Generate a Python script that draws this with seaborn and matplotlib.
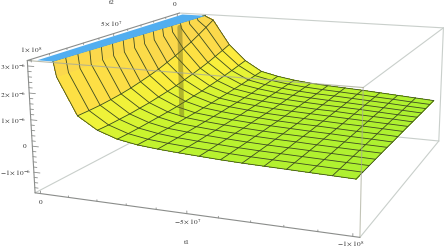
import numpy as np
import seaborn as sns
import matplotlib
matplotlib.use("Agg")
import matplotlib.pyplot as plt

sns.set_theme(style="white")
plt.rcParams["mathtext.fontset"] = "stix"
plt.rcParams["font.family"] = ["Liberation Serif", "DejaVu Serif"]

# values in units of 1e-6
z_min, z_max = -1.8, 3.2
x_lo, x_hi, y_lo, y_hi = -1.02e8, 2e6, -2e6, 1.02e8
t1_mesh = [-1e8 * i / 15 for i in range(1, 16)]
t2_mesh = [1e8 * j / 15 for j in range(16)]
t1_clip = [-10e6, -9.7e6, -9.4e6, -9.1e6, -8.8e6, -8.5e6, -8.2e6, -7.9e6,
           -7.6e6, -7.3e6, -7e6, -6.7e6, -6.4e6, -6.1e6, -5.9e6, -5.7e6]
z_table = np.array([
    [3.15, 3.00, 1.90, 1.20, .75, .58, .46, .38, .33, .29, .25, .20, .15, .10, .05],
    [3.08, 2.78, 1.76, 1.12, .71, .55, .44, .37, .32, .28, .24, .19, .15, .10, .06],
    [3.02, 2.57, 1.63, 1.04, .67, .52, .42, .35, .30, .27, .23, .19, .15, .10, .06],
    [2.96, 2.37, 1.50, .97, .63, .50, .40, .34, .29, .25, .22, .18, .14, .10, .06],
    [2.91, 2.20, 1.39, .90, .60, .47, .39, .33, .28, .24, .21, .18, .14, .10, .07],
    [2.86, 2.03, 1.29, .84, .57, .45, .37, .31, .27, .23, .21, .17, .14, .11, .07],
    [2.82, 1.89, 1.20, .78, .54, .43, .36, .30, .26, .23, .20, .17, .14, .11, .08],
    [2.78, 1.75, 1.11, .74, .51, .42, .35, .29, .25, .22, .19, .16, .14, .11, .08],
    [2.74, 1.64, 1.04, .69, .49, .40, .33, .29, .24, .21, .19, .16, .13, .11, .08],
    [2.71, 1.54, .98, .65, .47, .39, .33, .28, .24, .21, .18, .16, .13, .11, .08],
    [2.69, 1.45, .92, .62, .46, .38, .32, .27, .23, .20, .18, .16, .13, .11, .09],
    [2.67, 1.38, .88, .60, .44, .37, .31, .27, .23, .20, .18, .15, .13, .11, .09],
    [2.65, 1.33, .84, .58, .43, .36, .31, .26, .22, .19, .17, .15, .13, .11, .09],
    [2.64, 1.29, .82, .56, .43, .35, .30, .26, .22, .19, .17, .15, .13, .11, .09],
    [2.63, 1.27, .80, .55, .42, .35, .30, .26, .22, .19, .17, .15, .13, .11, .09],
    [2.63, 1.26, .80, .55, .42, .35, .30, .26, .22, .19, .17, .15, .13, .11, .09],
])
t1_ticks = [-1e7 * i for i in range(11)]
t2_ticks = [1e7 * i for i in range(11)]
z_ticks = [-1.6 + 0.2 * i for i in range(25)]
labels = [("0", 175, 4), (r"$5\times10^{7}$", 111, 24), (r"$1\times10^{8}$", 31, 50), ("t2", 112, 3),
          (r"$3\times10^{-6}$", 13, 67), (r"$2\times10^{-6}$", 13, 95), (r"$1\times10^{-6}$", 13, 121),
          ("0", 25, 147), (r"$-1\times10^{-6}$", 15, 173), ("0", 41, 203),
          (r"$-5\times10^{7}$", 188, 222), (r"$-1\times10^{8}$", 351, 244), ("t1", 187, 243)]

fig = plt.figure(figsize=(4.44, 2.48), dpi=100)
ax = fig.add_axes([24.34 / 444, 1 - 333.58 / 248, 445.71 / 444, 445.71 / 248],
                  projection="3d", computed_zorder=False)
ax.set_xlim(x_lo, x_hi)
ax.set_ylim(y_lo, y_hi)
ax.set_zlim(z_min, z_max)
ax.view_init(13.63, 112.05, 0.27)
ax.set_proj_type("persp", focal_length=0.4146)
ax.set_box_aspect((1, 0.9944, 0.4007))
ax.set_axis_off()

light = "#c9cfcb"
dark = "#8b8d8b"
through = "#a9ab98"
mesh = "#3c4a22"


def edge(p, q, color, zorder=1, lw=0.8, alpha=1.0):
    ax.plot([p[0], q[0]], [p[1], q[1]], [p[2], q[2]], color=color, lw=lw, alpha=alpha, zorder=zorder)


# box
A, B, C, D = (x_hi, y_hi, z_max), (x_hi, y_lo, z_max), (x_lo, y_lo, z_max), (x_lo, y_hi, z_max)
a, b, c, d = (x_hi, y_hi, z_min), (x_hi, y_lo, z_min), (x_lo, y_lo, z_min), (x_lo, y_hi, z_min)
edge(a, b, light)
edge(b, c, light)
edge(B, C, light)
edge(C, c, light)
edge(c, d, light)
edge(C, D, light)

cols = np.array(t1_clip)
X = np.column_stack([cols, np.minimum(t1_mesh[0], cols - 3e5)] + [np.full(16, v) for v in t1_mesh[1:]])
Y = np.tile(np.array(t2_mesh)[:, None], (1, X.shape[1]))
Z_main = np.column_stack([np.full(16, z_max), z_table])
cmap = sns.blend_palette(["#a8f030", "#c8f42e", "#ecf438", "#fdec3c", "#fde044", "#fbd84c"], as_cmap=True)
cell = (Z_main[:-1, :-1] + Z_main[1:, :-1] + Z_main[:-1, 1:] + Z_main[1:, 1:]) / 4
colors = cmap(np.clip(cell / 2.4, 0, 1))
ax.plot_surface(X, Y, Z_main, facecolors=colors, rstride=1, cstride=1, shade=False,
                linewidth=0, antialiased=False, zorder=2)

# mesh lines, the first t1 line sits at the clip edge and the shoulder has none
for j in range(16):
    ax.plot(X[j], Y[j], Z_main[j], color=mesh, lw=0.6, zorder=3)
for k in [0] + list(range(2, X.shape[1])):
    ax.plot(X[:, k], Y[:, k], Z_main[:, k], color=mesh, lw=0.6, zorder=3)

# clipped top, one flat quad between the t1=0 side and the clip edge
X_blue = np.array([[0, t1_clip[0]], [0, t1_clip[-1]]])
Y_blue = np.array([[t2_mesh[0], t2_mesh[0]], [t2_mesh[-1], t2_mesh[-1]]])
Z_blue = np.full_like(X_blue, z_max)
ax.plot_surface(X_blue, Y_blue, Z_blue, color="#52aef0", shade=False,
                linewidth=0, antialiased=True, zorder=4)

edge((x_hi, y_lo, 2.52), (x_hi, y_lo, -1.75), "#6f6a20", zorder=5, lw=3.5, alpha=0.45)
edge(A, D, through, zorder=6, alpha=0.8)
edge(D, d, through, zorder=6, alpha=0.7)
edge(A, B, dark, zorder=6)
edge(a, A, dark, zorder=6)
edge(a, d, dark, zorder=6)

# ticks
for i, v in enumerate(t1_ticks):
    edge((v, y_hi, z_min), (v, y_hi, z_min + (0.1 if i % 5 == 0 else 0.06)), dark, zorder=6, lw=0.6)
for i, v in enumerate(t2_ticks):
    edge((x_hi, v, z_max), (x_hi, v, z_max - (0.1 if i % 5 == 0 else 0.06)), dark, zorder=6, lw=0.6)
for i, v in enumerate(z_ticks):
    edge((x_hi, y_hi, v), (x_hi - (2.2e6 if i % 5 == 3 else 1.2e6), y_hi, v), dark, zorder=6, lw=0.6)

for s, x, y in labels:
    fig.text(x / 444, 1 - y / 248, s, fontsize=5.3, ha="center", va="center", color="#333333")

fig.savefig("out.png", dpi=100)
